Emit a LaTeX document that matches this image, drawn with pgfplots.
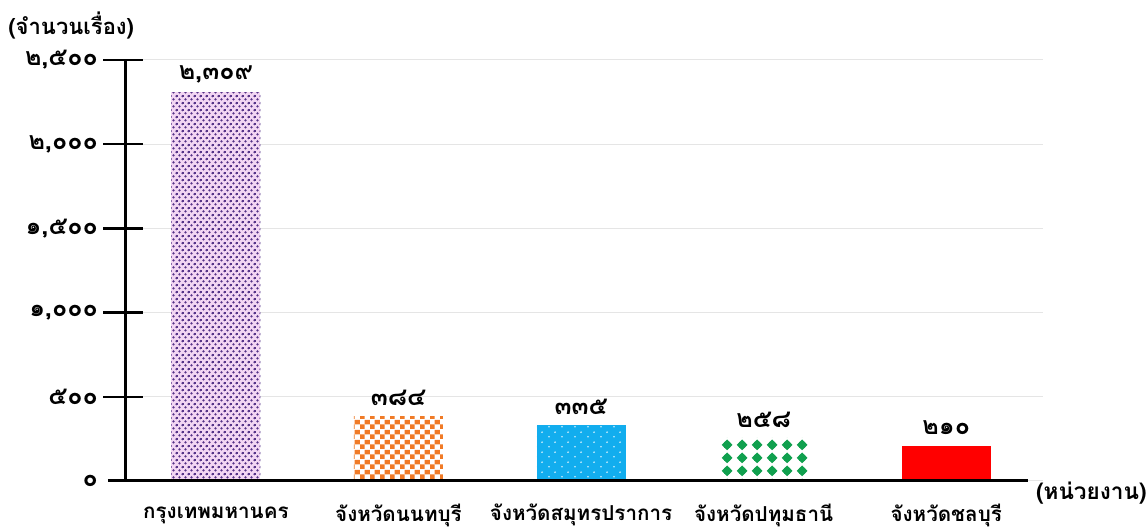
\documentclass[border=0pt]{standalone}
\usepackage{fontspec}
\usepackage{pgfplots}
\pgfplotsset{compat=1.18}
\usetikzlibrary{patterns.meta}
\newfontfamily\thaifont[Script=Thai]{Loma}
\definecolor{purpbg}{HTML}{F3D6F3}
\definecolor{purpdot}{HTML}{553388}
\definecolor{orangec}{HTML}{F07A26}
\definecolor{bluec}{HTML}{12ADEE}
\definecolor{greenc}{HTML}{10A04E}
\definecolor{redc}{HTML}{FF0000}
\tikzdeclarepattern{
  name=purpledots, type=colored,
  bounding box={(0,0) and (3.2pt,3.6pt)}, tile size={(3.2pt,3.6pt)},
  code={\fill[purpdot] (0.8pt,0.9pt) circle (0.7pt); \fill[purpdot] (2.4pt,2.7pt) circle (0.7pt);}
}
\tikzdeclarepattern{
  name=checker, type=colored,
  bounding box={(0,0) and (5pt,5pt)}, tile size={(5pt,5pt)},
  code={\fill[orangec] (0,0) rectangle (2.5pt,2.5pt); \fill[orangec] (2.5pt,2.5pt) rectangle (5pt,5pt);}
}
\tikzdeclarepattern{
  name=whitedots, type=colored,
  bounding box={(0,0) and (6.5pt,5pt)}, tile size={(6.5pt,5pt)},
  code={\fill[white!80!bluec] (1.6pt,1.2pt) circle (0.5pt); \fill[white!80!bluec] (4.85pt,3.7pt) circle (0.5pt);}
}
\tikzdeclarepattern{
  name=greendiam, type=colored,
  bounding box={(0,0) and (7.5pt,6.5pt)}, tile size={(7.5pt,6.5pt)},
  code={\fill[greenc] (3.75pt,0.4pt) -- (6.6pt,3.25pt) -- (3.75pt,6.1pt) -- (0.9pt,3.25pt) -- cycle; \fill[greenc] (3.75pt,3.25pt) circle (2.1pt);}
}
\begin{document}
\begin{tikzpicture}
\useasboundingbox (0,0) rectangle (574pt,264.5pt);
\begin{axis}[
  at={(54pt,24pt)}, anchor=south west,
  scale only axis, width=467.5pt, height=210.5pt,
  xmin=-0.591, xmax=4.53, ymin=0, ymax=2500,
  axis line style={draw=none},
  major tick length=0pt,
  xtick={0,1,2,3,4},
  xticklabels={กรุงเทพมหานคร,จังหวัดนนทบุรี,จังหวัดสมุทรปราการ,จังหวัดปทุมธานี,จังหวัดชลบุรี},
  ytick={0,500,1000,1500,2000,2500},
  yticklabels={๐,๕๐๐,{๑,๐๐๐},{๑,๕๐๐},{๒,๐๐๐},{๒,๕๐๐}},
  ymajorgrids, grid style={black!10, line width=0.5pt},
  clip=false,
  xticklabel style={font=\thaifont\bfseries\fontsize{10.3}{12}\selectfont, anchor=center, yshift=-17pt},
  yticklabel style={font=\thaifont\bfseries\fontsize{12.5}{14}\selectfont, anchor=east, xshift=-1.5pt},
  nodes near coords style={font=\thaifont\bfseries\fontsize{12.5}{14}\selectfont, anchor=center, yshift=9pt, black},
]
\addplot[ybar, bar width=44.5pt, bar shift=0pt, draw=none, fill=purpbg,
  postaction={pattern=purpledots}, nodes near coords={๒,๓๐๙}] coordinates {(0,2309)};
\addplot[ybar, bar width=44.5pt, bar shift=0pt, draw=none, fill=white,
  postaction={pattern=checker}, nodes near coords={๓๘๔}] coordinates {(1,384)};
\addplot[ybar, bar width=44.5pt, bar shift=0pt, draw=none, fill=bluec,
  postaction={pattern=whitedots}, nodes near coords={๓๓๕}] coordinates {(2,335)};
\addplot[ybar, bar width=44.5pt, bar shift=0pt, draw=none, fill=white,
  postaction={pattern=greendiam}, nodes near coords={๒๕๘}] coordinates {(3,258)};
\addplot[ybar, bar width=44.5pt, bar shift=0pt, draw=none, fill=redc,
  nodes near coords={๒๑๐}] coordinates {(4,210)};
\draw[line width=1.5pt] (axis cs:-0.497,0) -- (axis cs:-0.497,2500);
\draw[line width=1.5pt] (axis cs:-0.591,0) -- (axis cs:4.448,0);
\pgfplotsinvokeforeach{500,1000,1500,2000,2500}{
  \draw[line width=1.2pt] ([xshift=-11pt]axis cs:-0.497,#1) -- ([xshift=9pt]axis cs:-0.497,#1);
}
\end{axis}
\node[font=\thaifont\bfseries\fontsize{11}{13}\selectfont, anchor=west, inner sep=0pt] at (4pt,251.5pt) {(จำนวนเรื่อง)};
\node[font=\thaifont\bfseries\fontsize{11.3}{13}\selectfont, anchor=east, inner sep=0pt] at (573.5pt,18pt) {(หน่วยงาน)};
\end{tikzpicture}
\end{document}
